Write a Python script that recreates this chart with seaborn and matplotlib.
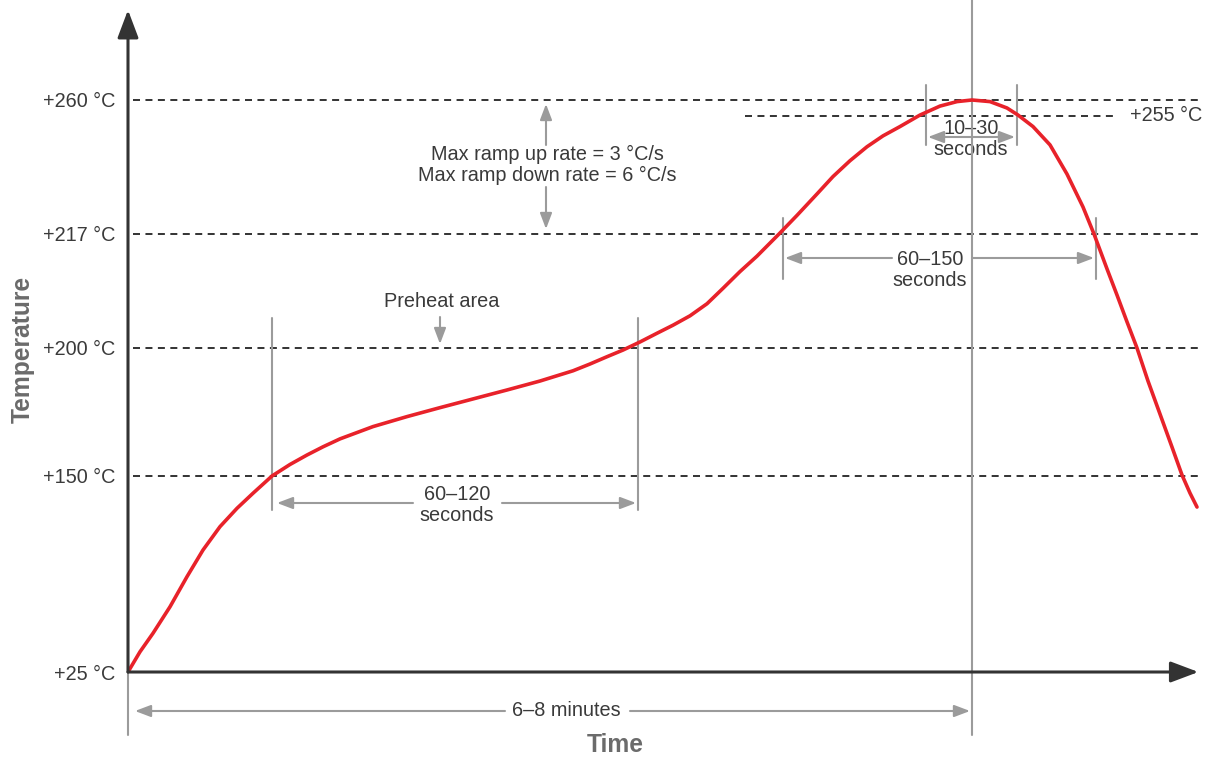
import numpy as np
import pandas as pd
import matplotlib
matplotlib.use("Agg")
import matplotlib.pyplot as plt
import seaborn as sns

# ---------------- data ----------------
# time axis is schematic (no ticks); values are in arbitrary time units
time_pts = [0, 12, 25, 42, 59, 75, 92, 109, 125, 144, 162, 179, 195, 212, 245,
            279, 312, 345, 379, 412, 445, 462, 479, 495, 512, 529, 545, 562,
            579, 595, 612, 629, 651, 669, 689, 705, 722, 739, 755, 772, 792,
            812, 829, 844, 862, 879, 890, 905, 922, 939, 955, 966, 979, 989,
            999, 1009, 1020, 1032, 1044, 1054, 1062, 1069]
temp_pts = [25, 37.9, 49.7, 66.6, 85.8, 102.8, 117.7, 129.4, 139, 150, 154.5,
            158.2, 161.4, 164.5, 169.3, 173.2, 176.7, 180.1, 183.6, 187.1,
            191.1, 193.75, 196.6, 199.2, 200.9, 202.2, 203.4, 204.8, 206.6,
            208.9, 211.4, 213.7, 217, 223.0, 229.9, 235.5, 240.6, 245.1,
            248.6, 251.6, 255.3, 258.1, 259.5, 260, 259.5, 257.5, 255.3,
            251.6, 245.7, 236.3, 225.7, 217, 211.8, 207.9, 203.9, 200, 187.1,
            174.2, 161.3, 150.4, 139.1, 130.2]

tick_temps = [25, 150, 200, 217, 260]
tick_labels = ["+25 °C", "+150 °C", "+200 °C", "+217 °C", "+260 °C"]
dashed_levels = [150, 200, 217, 260]
limit_level = 255
limit_label = "+255 °C"

# schematic (non-linear) temperature axis breakpoints -> vertical pixel height
TB = [25, 150, 200, 217, 255, 260]
HB = [0, 196, 324, 438, 556, 572]


def fwd(t):
    t = np.asarray(t, dtype=float)
    mid = np.interp(t, TB, HB)
    lo = HB[0] + (t - TB[0]) * (HB[1] - HB[0]) / (TB[1] - TB[0])
    hi = HB[-1] + (t - TB[-1]) * (HB[-1] - HB[-2]) / (TB[-1] - TB[-2])
    return np.where(t < TB[0], lo, np.where(t > TB[-1], hi, mid))


def inv(h):
    h = np.asarray(h, dtype=float)
    mid = np.interp(h, HB, TB)
    lo = TB[0] + (h - HB[0]) * (TB[1] - TB[0]) / (HB[1] - HB[0])
    hi = TB[-1] + (h - HB[-1]) * (TB[-1] - TB[-2]) / (HB[-1] - HB[-2])
    return np.where(h < HB[0], lo, np.where(h > HB[-1], hi, mid))


# layout helpers: figure pixel -> data coordinates
def xp(px):
    return px - 128


def yp(py):
    return float(inv(672 - py))


# ---------------- style ----------------
sns.set_theme(style="white")
plt.rcParams["font.family"] = ["Liberation Sans", "DejaVu Sans"]

RED = "#e8222a"
GREY = "#9b9b9b"
DARK = "#333333"
TXT = "#3a3a3a"
LAB = "#6b6b6b"
FS = 14.3

fig = plt.figure(figsize=(12.18, 7.57), dpi=100)
ax = fig.add_axes([128 / 1218, (757 - 672) / 757, 1072 / 1218, 662 / 757])
ax.set_yscale("function", functions=(fwd, inv))
ax.set_xlim(0, 1072)
ax.set_ylim(25, float(inv(662)))

for s in ax.spines.values():
    s.set_visible(False)
ax.grid(False)

# dashed reference lines
DASH = [(0, (3.6, 2.8))]
ax.hlines(dashed_levels, xp(133), xp(1200), colors=DARK, lw=1.4,
          linestyles=DASH, zorder=2)
ax.hlines([limit_level], xp(745), xp(1118), colors=DARK, lw=1.4,
          linestyles=DASH, zorder=2)
ax.text(xp(1130), limit_level, limit_label, ha="left", va="center",
        fontsize=FS, color=TXT)

# profile curve
df = pd.DataFrame({"time": time_pts, "temp": temp_pts})
sns.lineplot(data=df, x="time", y="temp", ax=ax, color=RED, linewidth=2.6,
             zorder=5, sort=False, solid_joinstyle="round",
             solid_capstyle="round")

# axes arrows
ax.annotate("", xy=(0, 1), xytext=(0, 0), xycoords="axes fraction",
            textcoords="axes fraction",
            arrowprops=dict(arrowstyle="-|>,head_length=0.85,head_width=0.32",
                            mutation_scale=20, lw=2.2, color=DARK,
                            shrinkA=0, shrinkB=0), zorder=6)
ax.annotate("", xy=(0.9985, 0), xytext=(0, 0), xycoords="axes fraction",
            textcoords="axes fraction",
            arrowprops=dict(arrowstyle="-|>,head_length=0.85,head_width=0.32",
                            mutation_scale=20, lw=2.2, color=DARK,
                            shrinkA=0, shrinkB=0), zorder=6)

ax.set_yticks(tick_temps)
ax.set_yticklabels(tick_labels)
ax.set_xticks([])
ax.tick_params(axis="y", length=0, pad=9, labelsize=FS, labelcolor=TXT)
ax.yaxis.set_minor_locator(matplotlib.ticker.NullLocator())

ax.set_ylabel("Temperature", fontsize=17.7, fontweight="bold", color=LAB,
              va="center")
ax.yaxis.set_label_coords((23 - 128) / 1072, (672 - 349) / 662)
ax.set_xlabel("Time", fontsize=17.7, fontweight="bold", color=LAB,
              va="baseline")
ax.xaxis.set_label_coords((615 - 128) / 1072, (672 - 752) / 662)

# grey annotation helpers
AP = dict(mutation_scale=10, lw=1.5, color=GREY, shrinkA=0, shrinkB=0)


def arrow(x0, y0, x1, y1, style="-|>"):
    ax.annotate("", xy=(xp(x1), yp(y1)), xytext=(xp(x0), yp(y0)),
                arrowprops=dict(arrowstyle=style + ",head_length=0.95,head_width=0.36", **AP),
                annotation_clip=False, zorder=4)


def vline(x, y0, y1):
    ax.plot([xp(x), xp(x)], [yp(y0), yp(y1)], color=GREY, lw=1.5,
            clip_on=False, zorder=4)


# peak time line and left time boundary
vline(972, 0, 735)
vline(128, 672, 735)

# 6-8 minutes
arrow(505, 711, 135, 711)
arrow(630, 711, 970, 711)
ax.text(xp(566), yp(711), "6–8 minutes", ha="center", va="center",
        fontsize=FS, color=TXT, clip_on=False)

# preheat 60-120 s
vline(272, 318, 510)
vline(638, 318, 510)
arrow(413, 503, 277, 503)
arrow(502, 503, 636, 503)
ax.text(xp(457), yp(505), "60–120\nseconds", ha="center", va="center",
        fontsize=FS, color=TXT, linespacing=1.1)

# preheat area
ax.text(xp(442), yp(301), "Preheat area", ha="center", va="center",
        fontsize=FS, color=TXT)
arrow(440, 317, 440, 344)

# ramp rates
arrow(546, 145, 546, 104)
arrow(546, 187, 546, 229)
ax.text(xp(547), yp(165), "Max ramp up rate = 3 °C/s\nMax ramp down rate = 6 °C/s",
        ha="center", va="center", fontsize=FS, color=TXT, linespacing=1.1)

# time above liquidus 60-150 s
vline(783, 218, 279)
vline(1096, 218, 279)
arrow(892, 258, 785, 258)
arrow(972, 258, 1094, 258)
ax.text(xp(930), yp(270), "60–150\nseconds", ha="center", va="center",
        fontsize=FS, color=TXT, linespacing=1.1)

# time near peak 10-30 s
vline(926, 85, 145)
vline(1017, 85, 145)
arrow(928, 137, 1015, 137, style="<|-|>")
ax.text(xp(971), yp(139), "10–30\nseconds", ha="center", va="center",
        fontsize=FS, color=TXT, linespacing=1.1)

fig.savefig("out.png", dpi=100, facecolor="white")
